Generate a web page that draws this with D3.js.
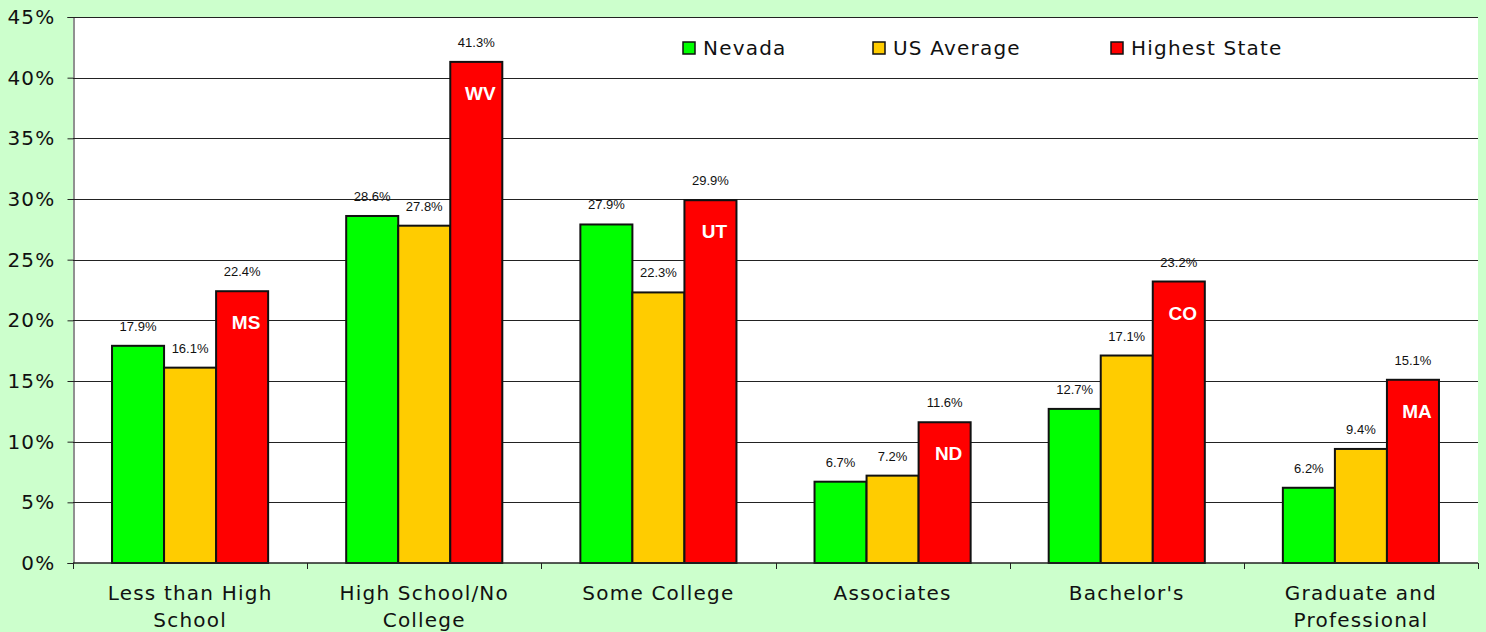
<!DOCTYPE html>
<html>
<head>
<meta charset="utf-8">
<script src="https://cdn.jsdelivr.net/npm/d3@7"></script>
<style>
  html, body { margin: 0; padding: 0; background: #ccffcc; }
  svg { display: block; }
</style>
</head>
<body>
<div id="chart"></div>
<script>
const categories = [
  ["Less than High", "School"],
  ["High School/No", "College"],
  ["Some College"],
  ["Associates"],
  ["Bachelor's"],
  ["Graduate and", "Professional"],
];
const seriesNames = ["Nevada", "US Average", "Highest State"];
const nevada = [17.9, 28.6, 27.9, 6.7, 12.7, 6.2];
const usAverage = [16.1, 27.8, 22.3, 7.2, 17.1, 9.4];
const highestState = [22.4, 41.3, 29.9, 11.6, 23.2, 15.1];
const highestStateCodes = ["MS", "WV", "UT", "ND", "CO", "MA"];
const yTicks = [0, 5, 10, 15, 20, 25, 30, 35, 40, 45];

const colors = ["#00ff00", "#ffcc00", "#ff0000"];
const width = 1486;
const height = 632;
const margin = { top: 17, right: 8, bottom: 69, left: 73 };
const fontFamily = "'DejaVu Sans', Verdana, sans-serif";

const svg = d3
  .select("#chart")
  .append("svg")
  .attr("width", width)
  .attr("height", height)
  .attr("viewBox", [0, 0, width, height]);

svg.append("rect").attr("width", width).attr("height", height).attr("fill", "#ccffcc");

const x0 = d3
  .scaleBand()
  .domain(d3.range(categories.length))
  .range([margin.left, width - margin.right])
  .paddingInner(1 / 3)
  .paddingOuter(1 / 6);

const x1 = d3.scaleBand().domain(d3.range(seriesNames.length)).range([0, x0.bandwidth()]);

const y = d3
  .scaleLinear()
  .domain([0, 45])
  .range([height - margin.bottom, margin.top]);

// plot area
svg
  .append("rect")
  .attr("x", margin.left)
  .attr("y", margin.top)
  .attr("width", width - margin.right - margin.left)
  .attr("height", height - margin.bottom - margin.top)
  .attr("fill", "#fff");

// gridlines
svg
  .append("g")
  .selectAll("line")
  .data(yTicks.slice(1))
  .join("line")
  .attr("x1", margin.left)
  .attr("x2", width - margin.right)
  .attr("y1", (d) => Math.round(y(d)) + 0.5)
  .attr("y2", (d) => Math.round(y(d)) + 0.5)
  .attr("stroke", "#222")
  .attr("stroke-width", 1);

// y axis
const yAxis = svg
  .append("g")
  .attr("transform", `translate(${margin.left + 0.5},0)`)
  .call(
    d3
      .axisLeft(y)
      .tickValues(yTicks)
      .tickSize(6)
      .tickPadding(12)
      .tickFormat((d) => d + "%")
  );
yAxis.select(".domain").attr("stroke", "#222");
yAxis.selectAll(".tick line").attr("stroke", "#222");
yAxis
  .selectAll(".tick text")
  .attr("fill", "#111")
  .style("font-family", fontFamily)
  .style("font-size", "20px")
  .style("letter-spacing", "1.2px");

const series = [nevada, usAverage, highestState];

// bars
const groups = svg
  .append("g")
  .selectAll("g")
  .data(categories)
  .join("g")
  .attr("transform", (d, i) => `translate(${x0(i)},0)`);

groups
  .selectAll("rect")
  .data((d, i) => series.map((s, j) => ({ j, value: s[i] })))
  .join("rect")
  .attr("x", (d) => x1(d.j))
  .attr("y", (d) => y(d.value))
  .attr("width", x1.bandwidth())
  .attr("height", (d) => y(0) - y(d.value))
  .attr("fill", (d) => colors[d.j])
  .attr("stroke", "#111")
  .attr("stroke-width", 2);

// value labels
groups
  .selectAll("text.value")
  .data((d, i) => series.map((s, j) => ({ j, value: s[i] })))
  .join("text")
  .attr("class", "value")
  .attr("x", (d) => x1(d.j) + x1.bandwidth() / 2)
  .attr("y", (d) => y(d.value) - 15)
  .attr("text-anchor", "middle")
  .attr("fill", "#111")
  .style("font-family", "'Liberation Sans', Arial, sans-serif")
  .style("font-size", "13px")
  .text((d) => d.value.toFixed(1) + "%");

// state labels inside the red bars
groups
  .append("text")
  .attr("x", x1(2) + x1.bandwidth() / 2 + 4)
  .attr("y", (d, i) => y(highestState[i]) + 38)
  .attr("text-anchor", "middle")
  .attr("fill", "#fff")
  .style("font-family", "'Liberation Sans', Arial, sans-serif")
  .style("font-size", "19px")
  .style("font-weight", "bold")
  .text((d, i) => highestStateCodes[i]);

// x axis
const xAxisY = y(0);
svg
  .append("line")
  .attr("x1", margin.left)
  .attr("x2", width - margin.right)
  .attr("y1", xAxisY)
  .attr("y2", xAxisY)
  .attr("stroke", "#222")
  .attr("stroke-width", 1.5);

const boundaries = d3.range(categories.length + 1).map((i) =>
  i < categories.length ? x0(i) - x0.step() * x0.paddingInner() / 2 : width - margin.right
);
svg
  .append("g")
  .selectAll("line")
  .data(boundaries)
  .join("line")
  .attr("x1", (d) => Math.round(d) + 0.5)
  .attr("x2", (d) => Math.round(d) + 0.5)
  .attr("y1", xAxisY)
  .attr("y2", xAxisY + 6)
  .attr("stroke", "#222");

svg
  .append("g")
  .selectAll("text")
  .data(categories)
  .join("text")
  .attr("transform", (d, i) => `translate(${x0(i) + x0.bandwidth() / 2},${xAxisY + 37})`)
  .attr("text-anchor", "middle")
  .attr("fill", "#111")
  .style("font-family", fontFamily)
  .style("font-size", "20px")
  .style("letter-spacing", "1.2px")
  .selectAll("tspan")
  .data((d) => d)
  .join("tspan")
  .attr("x", 0)
  .attr("dy", (d, k) => (k === 0 ? 0 : 27))
  .text((d) => d);

// legend
const legendX = [683, 873, 1111];
const legend = svg
  .append("g")
  .selectAll("g")
  .data(seriesNames)
  .join("g")
  .attr("transform", (d, i) => `translate(${legendX[i]},42)`);

legend
  .append("rect")
  .attr("width", 12)
  .attr("height", 12)
  .attr("fill", (d, i) => colors[i])
  .attr("stroke", "#111")
  .attr("stroke-width", 1.5);

legend
  .append("text")
  .attr("x", 20)
  .attr("y", 13)
  .attr("fill", "#111")
  .style("font-family", fontFamily)
  .style("font-size", "20px")
  .style("letter-spacing", "1.2px")
  .text((d) => d);
</script>
</body>
</html>
